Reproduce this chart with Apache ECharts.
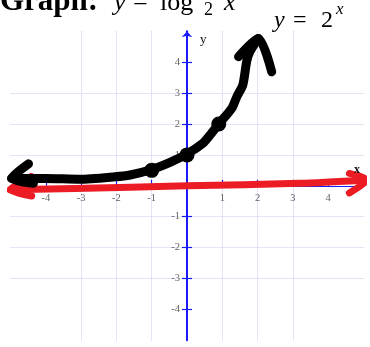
<!DOCTYPE html>
<html>
<head>
<meta charset="utf-8">
<script src="https://cdn.jsdelivr.net/npm/echarts@6/dist/echarts.min.js"></script>
<style>
  html, body { margin: 0; padding: 0; background: #ffffff; }
  #chart { width: 370px; height: 347px; }
</style>
</head>
<body>
<div id="chart"></div>
<script>
// Axis extent and tick labels
const axisMin = -5;
const axisMax = 5;
const tickLabels = [-4, -3, -2, -1, 1, 2, 3, 4];

// Hand-drawn exponential curve y = 2^x (traced stroke)
const curveStroke = [
  [-4.97, 0.24], [-4.02, 0.24], [-3.03, 0.21], [-2.04, 0.29], [-1.61, 0.35],
  [-1.05, 0.51], [-0.48, 0.76], [0, 1.03], [0.45, 1.38], [0.65, 1.64],
  [0.9, 2.0], [1.27, 2.51], [1.41, 2.88], [1.58, 3.26], [1.69, 4.02],
  [1.78, 4.34], [2.02, 4.77]
];
const curveTopArrow = [[1.46, 4.18], [2.02, 4.77], [2.4, 3.69]];
const curveLeftArrow = [[-4.49, 0.71], [-4.97, 0.24], [-4.35, 0.08]];
// Plotted points (-1, 1/2), (0, 1), (1, 2)
const curvePoints = [[-1, 0.5], [0, 1], [0.9, 2]];

// Hand-drawn red x-axis with arrowheads
const redStroke = [[-5.01, -0.13], [-1.61, -0.05], [0, 0.0], [3.2, 0.08], [5.1, 0.19]];
const redLeftArrow = [[-4.42, 0.3], [-5.01, -0.13], [-4.4, -0.33]];
const redRightArrow = [[4.6, 0.4], [5.1, 0.19], [4.6, -0.23]];

const serif = '"Liberation Serif", "Times New Roman", serif';
const blue = '#1a1aff';
const gridColor = '#c9c9f2';
const labelColor = '#3a3a3a';

function strokeSeries(data, color, width, z) {
  return {
    type: 'line',
    data: data,
    showSymbol: false,
    smooth: 0.25,
    clip: false,
    silent: true,
    z: z,
    lineStyle: { color: color, width: width, cap: 'round', join: 'round' }
  };
}

// Tick numbers sit next to the axes that cross at the origin
function tickLabelSeries(data, position, distance) {
  return {
    type: 'scatter',
    data: data,
    symbolSize: 0,
    silent: true,
    z: 2,
    label: {
      show: true, position: position, distance: distance,
      fontFamily: serif, fontSize: 10.5, color: labelColor,
      formatter: function (p) { return String(position === 'left' ? p.value[1] : p.value[0]); }
    }
  };
}

const chart = echarts.init(document.getElementById('chart'), null, { renderer: 'canvas' });

chart.setOption({
  animation: false,
  backgroundColor: '#ffffff',
  grid: { left: 10.5, right: 6.5, top: 31.3, bottom: 6.7 },
  xAxis: [{
    type: 'value', min: axisMin, max: axisMax, interval: 1,
    axisLine: { show: true, onZero: true, lineStyle: { color: blue, width: 1 } },
    axisTick: {
      show: true, inside: true, length: 6, customValues: tickLabels,
      lineStyle: { color: blue, width: 1.2 }
    },
    axisLabel: { show: false },
    splitLine: {
      show: true, showMinLine: false, showMaxLine: false,
      lineStyle: { color: gridColor, type: 'dotted', width: 1 }
    }
  }],
  yAxis: [{
    type: 'value', min: axisMin, max: axisMax, interval: 1,
    axisLine: {
      show: true, onZero: true,
      symbol: ['none', 'arrow'], symbolSize: [8, 6],
      lineStyle: { color: blue, width: 2 }
    },
    axisTick: {
      show: true, inside: false, length: 5, customValues: tickLabels,
      lineStyle: { color: blue, width: 1.2 }
    },
    axisLabel: { show: false },
    splitLine: {
      show: true, showMinLine: false, showMaxLine: false,
      lineStyle: { color: gridColor, type: 'dotted', width: 1 }
    }
  }, {
    type: 'value', min: axisMin, max: axisMax, interval: 1, position: 'left',
    axisLine: { show: false, onZero: true, onZeroAxisIndex: 0 },
    axisTick: {
      show: true, inside: true, length: 5, customValues: tickLabels,
      lineStyle: { color: blue, width: 1.2 }
    },
    axisLabel: { show: false },
    splitLine: { show: false }
  }],
  series: [
    tickLabelSeries(tickLabels.map(function (v) { return [v, 0]; }), 'bottom', 7),
    tickLabelSeries(tickLabels.map(function (v) { return [0, v]; }), 'left', 7),
    strokeSeries(redStroke, '#ec1c24', 7, 3),
    strokeSeries(redLeftArrow, '#ec1c24', 7, 3),
    strokeSeries(redRightArrow, '#ec1c24', 7, 3),
    strokeSeries(curveStroke, '#000000', 9, 4),
    strokeSeries(curveTopArrow, '#000000', 9, 4),
    strokeSeries(curveLeftArrow, '#000000', 9, 4),
    {
      type: 'scatter', data: curvePoints, symbolSize: 15, z: 5, silent: true,
      itemStyle: { color: '#000000', opacity: 1 }
    }
  ],
  graphic: [
    { type: 'text', left: 200, top: 33, z: 10,
      style: { text: 'y', font: '13px ' + serif, fill: '#111' } },
    { type: 'text', left: 354, top: 164, z: 10,
      style: { text: 'x', font: 'bold 12px ' + serif, fill: '#111' } },
    // Heading: Graph: y = log2 x
    { type: 'text', x: 0, y: 17, z: 10,
      style: { text: 'Graph:', font: 'bold 31px ' + serif, fill: '#000', verticalAlign: 'bottom' } },
    { type: 'text', x: 114, y: 16, z: 10,
      style: { text: 'y', font: 'italic 26px ' + serif, fill: '#000', verticalAlign: 'bottom' } },
    { type: 'text', x: 133, y: 16, z: 10,
      style: { text: '=', font: '26px ' + serif, fill: '#000', verticalAlign: 'bottom' } },
    { type: 'text', x: 160, y: 16, z: 10,
      style: { text: 'log', font: '26px ' + serif, fill: '#000', verticalAlign: 'bottom' } },
    { type: 'text', x: 204, y: 19, z: 10,
      style: { text: '2', font: '18px ' + serif, fill: '#000', verticalAlign: 'bottom' } },
    { type: 'text', x: 224, y: 16, z: 10,
      style: { text: 'x', font: 'italic 26px ' + serif, fill: '#000', verticalAlign: 'bottom' } },
    // Curve label: y = 2^x
    { type: 'text', x: 274, y: 33, z: 10,
      style: { text: 'y', font: 'italic 24px ' + serif, fill: '#000', verticalAlign: 'bottom' } },
    { type: 'text', x: 293, y: 33, z: 10,
      style: { text: '=', font: '24px ' + serif, fill: '#000', verticalAlign: 'bottom' } },
    { type: 'text', x: 321, y: 33, z: 10,
      style: { text: '2', font: '24px ' + serif, fill: '#000', verticalAlign: 'bottom' } },
    { type: 'text', x: 336, y: 18, z: 10,
      style: { text: 'x', font: 'italic 17px ' + serif, fill: '#000', verticalAlign: 'bottom' } }
  ]
});
</script>
</body>
</html>
